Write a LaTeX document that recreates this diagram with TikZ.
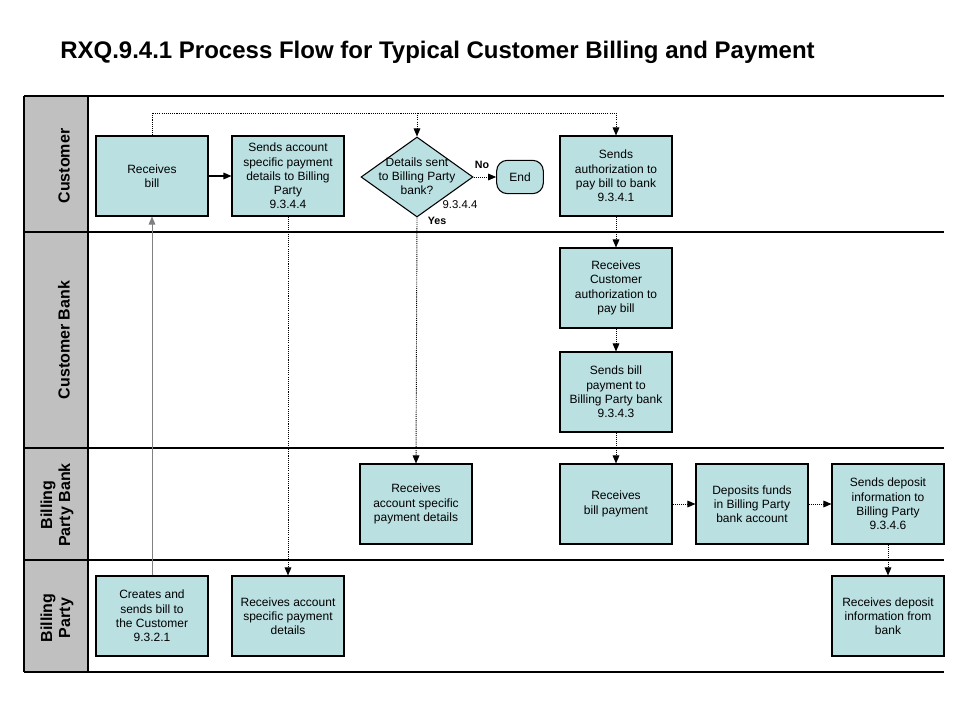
\documentclass[tikz,border=0pt]{standalone}
\usepackage{fontspec}
\setmainfont{Liberation Sans}
\usetikzlibrary{shapes.geometric,arrows.meta}
\definecolor{boxfill}{RGB}{187,224,226}
\definecolor{lanegray}{RGB}{192,192,192}
\begin{document}
\begin{tikzpicture}[x=0.75pt,y=-0.75pt,
  proc/.style={draw=black,line width=0.8pt,fill=boxfill,minimum width=84pt,minimum height=60pt,inner sep=1pt,align=center,font=\fontsize{9}{10.7}\selectfont},
  decis/.style={diamond,draw=black,line width=0.8pt,fill=boxfill,minimum width=84pt,minimum height=60pt,inner sep=0pt},
  term/.style={draw=black,line width=0.8pt,fill=boxfill,rounded corners=8pt,minimum width=35pt,minimum height=25pt,font=\fontsize{9}{10.7}\selectfont},
  txt/.style={align=center,font=\fontsize{9}{10.7}\selectfont,inner sep=0pt},
  lanelbl/.style={rotate=90,align=center,font=\fontsize{12}{13.5}\selectfont\bfseries,inner sep=0pt},
  laneline/.style={line width=1pt},
  dline/.style={line width=0.7pt,dash pattern=on 0.8pt off 0.8pt},
  arr/.style={-{Triangle[length=6pt,width=5pt]}},
]
\useasboundingbox (0,0) rectangle (960,720);

% title
\node[anchor=west,inner sep=0pt,font=\fontsize{18}{21}\selectfont\bfseries] (title) at (60,52) {RXQ.9.4.1 Process Flow for Typical Customer Billing and Payment};

% lanes
\fill[lanegray] (24,96) rectangle (88,672);
\draw[laneline] (24,96) -- (944,96);
\draw[laneline] (24,232) -- (944,232);
\draw[laneline] (24,448) -- (944,448);
\draw[laneline] (24,560) -- (944,560);
\draw[laneline] (24,672) -- (944,672);
\draw[laneline] (24,96) -- (24,672);
\draw[laneline] (88,96) -- (88,672);

\node[lanelbl] (l1) at (64,166) {Customer};
\node[lanelbl] (l2) at (64,340) {Customer Bank};
\node[lanelbl] (l3) at (57,505) {Billing\\Party Bank};
\node[lanelbl] (l4) at (57,618) {Billing\\Party};

% customer lane
\node[proc] (rb) at (152,176) {Receives\\bill};
\node[proc] (sa) at (288,176) {Sends account\\specific payment\\details to Billing\\Party\\9.3.4.4};
\node[decis] (dia) at (417,177) {};
\node[txt] (diat) at (417,176) {Details sent\\to Billing Party\\bank?};
\node[term] (end) at (520,177) {End};
\node[proc] (auth) at (616,176) {Sends\\authorization to\\pay bill to bank\\9.3.4.1};

\node[font=\fontsize{8}{9}\selectfont\bfseries,inner sep=0pt] (no) at (482,165) {No};
\node[font=\fontsize{8.5}{9}\selectfont,inner sep=0pt] (num) at (460,205) {9.3.4.4};
\node[font=\fontsize{8}{9}\selectfont\bfseries,inner sep=0pt] (yes) at (437,221) {Yes};

% customer bank lane
\node[proc] (rca) at (616,288) {Receives\\Customer\\authorization to\\pay bill};
\node[proc] (sbp) at (616,392) {Sends bill\\payment to\\Billing Party bank\\9.3.4.3};

% billing party bank lane
\node[proc] (rasb) at (416,504) {Receives\\account specific\\payment details};
\node[proc] (rbp) at (616,504) {Receives\\bill payment};
\node[proc] (dep) at (752,504) {Deposits funds\\in Billing Party\\bank account};
\node[proc] (sdi) at (888,504) {Sends deposit\\information to\\Billing Party\\9.3.4.6};

% billing party lane
\node[proc] (cs) at (152,616) {Creates and\\sends bill to\\the Customer\\9.3.2.1};
\node[proc] (rap) at (288,616) {Receives account\\specific payment\\details};
\node[proc] (rdi) at (888,616) {Receives deposit\\information from\\bank};

% connectors
\coordinate (t1) at (152,113);
\coordinate (t2) at (417,113);
\coordinate (t3) at (616,113);
\draw[dline] (rb.north) -- (t1) -- (t3);
\draw[dline,arr] (t2) -- (dia.north);
\draw[dline,arr] (t3) -- (auth.north);
\draw[line width=0.8pt,arr] (rb.east) -- (sa.west);
\draw[line width=0.7pt,draw=gray,arr] (cs.north) -- (rb.south);
\draw[dline,arr] (sa.south) -- (rap.north);
\draw[dline,arr] (dia.south) -- (rasb.north);
\draw[dline,arr] (dia.east) -- (end.west);
\draw[dline,arr] (auth.south) -- (rca.north);
\draw[dline,arr] (rca.south) -- (sbp.north);
\draw[dline,arr] (sbp.south) -- (rbp.north);
\draw[dline,arr] (rbp.east) -- (dep.west);
\draw[dline,arr] (dep.east) -- (sdi.west);
\draw[dline,arr] (sdi.south) -- (rdi.north);
\end{tikzpicture}
\end{document}
